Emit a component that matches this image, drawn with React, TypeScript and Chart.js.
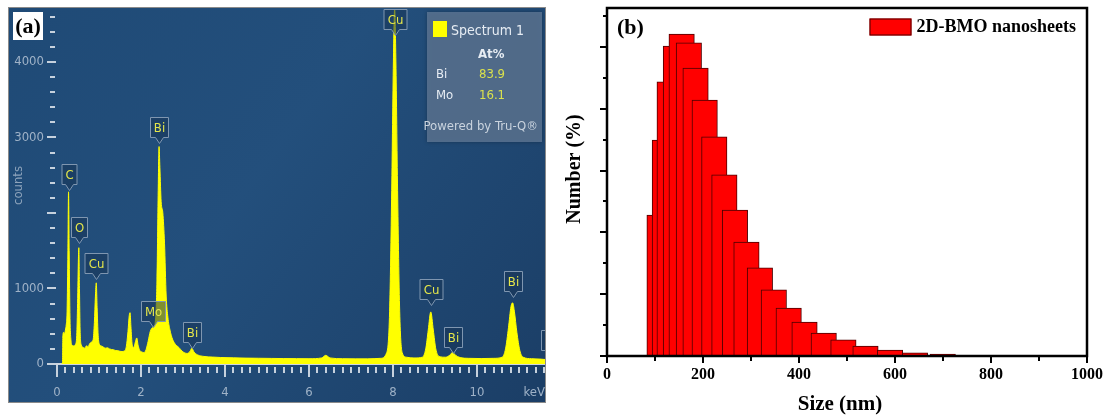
import React, { useEffect, useRef } from 'react';
import { Chart, registerables } from 'chart.js';

Chart.register(...registerables);

// ---------- (a) EDS spectrum ----------
const energyKeV = [
  0.10, 0.13, 0.14, 0.16, 0.18, 0.20, 0.22, 0.24, 0.26, 0.275,
  0.29, 0.31, 0.33, 0.36, 0.40, 0.44, 0.47, 0.49, 0.51, 0.52,
  0.535, 0.55, 0.58, 0.62, 0.66, 0.70, 0.74, 0.78, 0.82, 0.86,
  0.89, 0.915, 0.935, 0.955, 0.98, 1.01, 1.05, 1.10, 1.15, 1.20,
  1.25, 1.30, 1.35, 1.40, 1.45, 1.50, 1.55, 1.60, 1.65, 1.69,
  1.72, 1.74, 1.76, 1.79, 1.83, 1.87, 1.90, 1.93, 1.97, 2.02,
  2.07, 2.12, 2.17, 2.22, 2.27, 2.31, 2.35, 2.38, 2.41, 2.43,
  2.45, 2.48, 2.52, 2.56, 2.60, 2.64, 2.69, 2.75, 2.82, 2.90,
  3.00, 3.10, 3.17, 3.21, 3.26, 3.35, 3.50, 3.70, 3.90, 4.20,
  4.50, 4.80, 5.10, 5.40, 5.70, 6.00, 6.30, 6.40, 6.50, 6.80,
  7.10, 7.40, 7.70, 7.85, 7.92, 7.97, 8.01, 8.04, 8.07, 8.11,
  8.16, 8.22, 8.32, 8.50, 8.70, 8.78, 8.84, 8.90, 8.96, 9.02,
  9.10, 9.25, 9.36, 9.42, 9.48, 9.60, 9.80, 10.10, 10.40, 10.60,
  10.68, 10.75, 10.81, 10.85, 10.89, 10.95, 11.02, 11.10, 11.30, 11.50,
  11.62,
];
const spectrumCounts = [
  0, 0, 380, 420, 400, 450, 520, 700, 1500, 2280,
  1500, 600, 330, 250, 240, 260, 380, 800, 1400, 1540,
  1000, 450, 250, 220, 210, 240, 230, 270, 290, 320,
  550, 900, 1075, 750, 380, 260, 240, 225, 210, 215,
  200, 192, 188, 178, 176, 168, 165, 172, 230, 430,
  640, 680, 500, 260, 220, 300, 345, 250, 180, 160,
  150, 190, 300, 430, 480, 500, 620, 1100, 2300, 2880,
  2600, 2150, 2000, 1600, 900, 620, 450, 330, 260, 220,
  160, 140, 170, 210, 160, 120, 100, 92, 86, 82,
  78, 76, 74, 72, 71, 70, 80, 115, 80, 70,
  68, 68, 75, 150, 700, 2300, 4000, 4700, 4000, 2300,
  700, 150, 90, 80, 90, 200, 450, 690, 450, 200,
  100, 90, 120, 155, 120, 85, 75, 72, 75, 90,
  200, 480, 760, 810, 700, 420, 180, 90, 70, 65,
  60,
];

// peak identification tags: element, line energy (keV), tag anchor height (counts)
const peakElements = ['C', 'O', 'Cu', 'Mo', 'Bi', 'Bi', 'Cu', 'Cu', 'Bi', 'Bi', 'Bi'];
const peakEnergies = [0.28, 0.52, 0.93, 2.29, 2.43, 3.21, 8.04, 8.90, 9.42, 10.85, 11.74];
const peakTagCounts = [2300, 1600, 1125, 490, 2930, 210, 4360, 780, 145, 890, 105];

// quantification table
const quantElements = ['Bi', 'Mo'];
const quantAtPercent = ['83.9', '16.1'];

// ---------- (b) size distribution ----------
const binStartNm = [83, 94, 104, 117, 129, 144, 158, 177, 197, 218, 240, 264, 292, 321, 352, 385, 425, 466, 512, 563, 615, 673];
const binWidthNm = 53;
const numberPercent = [4.56, 6.99, 8.87, 10.03, 10.42, 10.13, 9.32, 8.28, 7.09, 5.86, 4.72, 3.69, 2.85, 2.14, 1.55, 1.10, 0.74, 0.52, 0.32, 0.19, 0.10, 0.06];
const sampleName = '2D-BMO nanosheets';
const sizeAxisTitle = 'Size (nm)';
const numberAxisTitle = 'Number (%)';

const NARROW = "'Liberation Sans Narrow', 'DejaVu Sans Condensed', 'Open Sans', sans-serif";
const SERIF = "'Liberation Serif', 'Times New Roman', serif";

type TickSpec = {
  axis: 'x' | 'y';
  step: number;
  count: number;
  every: number;
  majorSpan: [number, number];
  minorSpan: [number, number];
  color: string;
  width: number;
};

// keeps the plot area exactly where the layout puts it (no extra room for edge labels)
const noEdgePadding = (s: any) => {
  s.paddingTop = 0;
  s.paddingBottom = 0;
  s.paddingLeft = 0;
  s.paddingRight = 0;
};

function drawTickMarks(chart: any, spec: TickSpec) {
  const { ctx, chartArea } = chart;
  const scale = chart.scales[spec.axis];
  ctx.save();
  ctx.strokeStyle = spec.color;
  ctx.lineWidth = spec.width;
  ctx.beginPath();
  for (let i = 0; i <= spec.count; i++) {
    const p = Math.round(scale.getPixelForValue(i * spec.step)) + (spec.width % 2 ? 0.5 : 0);
    const [a, b] = i % spec.every === 0 ? spec.majorSpan : spec.minorSpan;
    if (spec.axis === 'x') {
      ctx.moveTo(p, chartArea.bottom + a);
      ctx.lineTo(p, chartArea.bottom + b);
    } else {
      ctx.moveTo(chartArea.left - a, p);
      ctx.lineTo(chartArea.left - b, p);
    }
  }
  ctx.stroke();
  ctx.restore();
}

const edsDecor = {
  id: 'edsDecor',
  beforeDraw(chart: any) {
    const { ctx, width, height } = chart;
    ctx.save();
    const g = ctx.createLinearGradient(0, 0, width, height);
    g.addColorStop(0, '#1f4a76');
    g.addColorStop(0.45, '#234f7c');
    g.addColorStop(1, '#1b3e66');
    ctx.fillStyle = g;
    ctx.fillRect(0, 0, width, height);
    ctx.restore();
  },
  afterDatasetsDraw(chart: any) {
    const { ctx, chartArea, scales } = chart;
    const { x, y } = scales;
    ctx.save();
    ctx.font = `13px ${NARROW}`;
    ctx.textAlign = 'center';
    ctx.textBaseline = 'middle';
    peakElements.forEach((el, i) => {
      const cx = Math.round(x.getPixelForValue(peakEnergies[i])) + 0.5;
      const tip = Math.round(y.getPixelForValue(peakTagCounts[i])) + 0.5;
      const w = Math.round(ctx.measureText(el).width + 7);
      const bb = tip - 6;
      const top = bb - 20;
      const l = cx - w / 2;
      const r = cx + w / 2;
      ctx.beginPath();
      ctx.moveTo(l, top);
      ctx.lineTo(r, top);
      ctx.lineTo(r, bb);
      ctx.lineTo(cx + 4, bb);
      ctx.lineTo(cx, tip);
      ctx.lineTo(cx - 4, bb);
      ctx.lineTo(l, bb);
      ctx.closePath();
      ctx.fillStyle = 'rgba(24, 52, 86, 0.55)';
      ctx.fill();
      ctx.strokeStyle = '#7f96b0';
      ctx.lineWidth = 1;
      ctx.stroke();
      ctx.fillStyle = '#e4e64a';
      ctx.fillText(el, cx, (top + bb) / 2 + 1);
    });

    // quantification box
    const bl = chartArea.right - 118;
    const bt = 5;
    const bw = 115;
    const bh = 130;
    ctx.shadowColor = 'rgba(0,0,0,0.35)';
    ctx.shadowBlur = 4;
    ctx.fillStyle = 'rgba(95, 120, 150, 0.8)';
    ctx.fillRect(bl, bt, bw, bh);
    ctx.shadowBlur = 0;
    ctx.shadowColor = 'transparent';
    ctx.fillStyle = '#ffff00';
    ctx.fillRect(bl + 6, bt + 9, 14, 16);
    ctx.textAlign = 'left';
    ctx.fillStyle = '#e6ecf3';
    ctx.font = `14px ${NARROW}`;
    ctx.fillText('Spectrum 1', bl + 24, bt + 19);
    ctx.font = `bold 13px ${NARROW}`;
    ctx.fillText('At%', bl + 51, bt + 43);
    ctx.font = `13px ${NARROW}`;
    quantElements.forEach((el, i) => {
      const ty = bt + 63 + i * 21;
      ctx.fillStyle = '#e6ecf3';
      ctx.fillText(el, bl + 9, ty);
      ctx.fillStyle = '#dbe24c';
      ctx.fillText(quantAtPercent[i], bl + 52, ty);
    });
    ctx.textAlign = 'right';
    ctx.fillStyle = '#c9d3de';
    ctx.fillText('Powered by Tru-Q\u00ae', bl + bw - 4, bt + 115);
    ctx.restore();
  },
  afterDraw(chart: any) {
    const { ctx, width, height } = chart;
    drawTickMarks(chart, { axis: 'y', step: 200, count: 23, every: 5, majorSpan: [10, 1], minorSpan: [7, 2], color: '#c6d1dd', width: 2 });
    drawTickMarks(chart, { axis: 'x', step: 0.2, count: 58, every: 10, majorSpan: [1, 13], minorSpan: [3, 9], color: '#c6d1dd', width: 2 });
    ctx.save();
    // panel letter
    ctx.fillStyle = '#ffffff';
    ctx.fillRect(5, 5, 30, 28);
    ctx.fillStyle = '#000000';
    ctx.font = `bold 22px ${SERIF}`;
    ctx.textAlign = 'center';
    ctx.textBaseline = 'middle';
    ctx.fillText('(a)', 20, 20);
    // frame
    ctx.strokeStyle = '#8a8a8a';
    ctx.lineWidth = 1;
    ctx.strokeRect(0.5, 0.5, width - 1, height - 1);
    ctx.restore();
  },
};

const dlsDecor = {
  id: 'dlsDecor',
  afterDraw(chart: any) {
    const { ctx, chartArea } = chart;
    drawTickMarks(chart, { axis: 'y', step: 1, count: 11, every: 2, majorSpan: [7, 0], minorSpan: [4, 0], color: '#000', width: 2 });
    drawTickMarks(chart, { axis: 'x', step: 100, count: 10, every: 2, majorSpan: [0, 7], minorSpan: [0, 5], color: '#000', width: 2 });
    ctx.save();
    ctx.strokeStyle = '#000';
    ctx.lineWidth = 2.5;
    ctx.strokeRect(chartArea.left, chartArea.top, chartArea.right - chartArea.left, chartArea.bottom - chartArea.top);

    ctx.fillStyle = '#000';
    ctx.textBaseline = 'middle';
    ctx.textAlign = 'left';
    ctx.font = `bold 22px ${SERIF}`;
    ctx.fillText('(b)', chartArea.left + 10, chartArea.top + 20);

    // axis titles
    ctx.textAlign = 'center';
    ctx.font = `bold 21px ${SERIF}`;
    ctx.fillText(sizeAxisTitle, (chartArea.left + chartArea.right) / 2 - 7, chartArea.bottom + 49);
    ctx.save();
    ctx.translate(chartArea.left - 32, (chartArea.top + chartArea.bottom) / 2 - 13);
    ctx.rotate(-Math.PI / 2);
    ctx.font = `bold 20px ${SERIF}`;
    ctx.fillText(numberAxisTitle, 0, 0);
    ctx.restore();

    // legend
    const ds = chart.data.datasets[0];
    ctx.textAlign = 'left';
    ctx.font = `bold 18px ${SERIF}`;
    const tw = ctx.measureText(ds.label).width;
    const tx = chartArea.right - 11 - tw;
    const cy = chartArea.top + 19;
    ctx.fillText(ds.label, tx, cy);
    ctx.fillStyle = ds.backgroundColor;
    ctx.fillRect(tx - 47, cy - 8.5, 42, 17);
    ctx.strokeStyle = '#4a0000';
    ctx.lineWidth = 1;
    ctx.strokeRect(tx - 46.5, cy - 8, 41, 16);
    ctx.restore();
  },
};

function EdsSpectrum() {
  const ref = useRef<HTMLCanvasElement>(null);
  useEffect(() => {
    const chart = new Chart(ref.current as HTMLCanvasElement, {
      type: 'line',
      data: {
        datasets: [
          {
            label: 'Spectrum 1',
            data: energyKeV.map((e, i) => ({ x: e, y: spectrumCounts[i] })),
            borderColor: '#ffff00',
            backgroundColor: '#ffff00',
            borderWidth: 1,
            fill: 'origin',
            pointRadius: 0,
            cubicInterpolationMode: 'monotone',
          },
        ],
      },
      options: {
        responsive: false,
        animation: false,
        devicePixelRatio: 1,
        layout: { padding: { top: 0, right: 1, bottom: 0, left: 0 } },
        plugins: { legend: { display: false }, tooltip: { enabled: false } },
        scales: {
          x: {
            type: 'linear',
            min: 0,
            max: 11.62,
            afterFit: (s: any) => { s.height = 39; noEdgePadding(s); },
            grid: { display: false, drawTicks: false },
            border: { display: true, color: '#cdd6e0', width: 2 },
            ticks: {
              stepSize: 2,
              includeBounds: false,
              padding: 21,
              color: '#9fb2c7',
              font: { family: NARROW, size: 13 },
              maxRotation: 0,
            },
            title: {
              display: true,
              text: 'keV',
              align: 'end',
              color: '#9fb2c7',
              font: { family: NARROW, size: 13 },
              padding: { top: 0, bottom: 3 },
            },
          },
          y: {
            type: 'linear',
            min: 0,
            max: 4728,
            afterFit: (s: any) => { s.width = 49; noEdgePadding(s); },
            grid: { display: false, drawTicks: false },
            border: { display: false },
            ticks: {
              stepSize: 200,
              autoSkip: false,
              includeBounds: false,
              padding: 13,
              color: '#9fb2c7',
              font: { family: NARROW, size: 13 },
              callback: (v: any) => (v % 1000 === 0 && v !== 2000 ? String(v) : null),
            },
            title: {
              display: true,
              text: 'counts',
              color: '#8ea4bc',
              font: { family: NARROW, size: 13 },
              padding: { top: 3, bottom: 0 },
            },
          },
        },
      },
      plugins: [edsDecor],
    } as any);
    return () => chart.destroy();
  }, []);
  return <canvas ref={ref} width={538} height={396} style={{ position: 'absolute', left: 8, top: 7 }} />;
}

function SizeDistribution() {
  const ref = useRef<HTMLCanvasElement>(null);
  useEffect(() => {
    const chart = new Chart(ref.current as HTMLCanvasElement, {
      type: 'bar',
      data: {
        datasets: [
          {
            label: sampleName,
            data: binStartNm.map((s, i) => ({ x: s + binWidthNm / 2, y: numberPercent[i] })),
            backgroundColor: '#ff0000',
            borderColor: '#4a0000',
            borderWidth: 1,
            barThickness: (c: any) => {
              const xs = c.chart.scales.x;
              return Math.abs(xs.getPixelForValue(binWidthNm) - xs.getPixelForValue(0));
            },
          },
        ],
      },
      options: {
        responsive: false,
        animation: false,
        devicePixelRatio: 1,
        layout: { padding: { top: 8, right: 26, bottom: 0, left: 0 } },
        plugins: { legend: { display: false }, tooltip: { enabled: false } },
        scales: {
          x: {
            type: 'linear',
            min: 0,
            max: 1000,
            offset: false,
            afterFit: (s: any) => { s.height = 63; noEdgePadding(s); },
            grid: { display: false, drawTicks: false, offset: false },
            border: { display: false },
            ticks: {
              stepSize: 200,
              padding: 9,
              color: '#000',
              font: { family: SERIF, size: 16, weight: 'bold' },
              maxRotation: 0,
              callback: (v: any) => String(v),
            },
          },
          y: {
            type: 'linear',
            min: 0,
            max: 11.26,
            afterFit: (s: any) => { s.width = 47; noEdgePadding(s); },
            grid: { display: false, drawTicks: false },
            border: { display: false },
            ticks: { display: false, stepSize: 2 },
          },
        },
      },
      plugins: [dlsDecor],
    } as any);
    return () => chart.destroy();
  }, []);
  return <canvas ref={ref} width={553} height={419} style={{ position: 'absolute', left: 560, top: 0 }} />;
}

export default function App() {
  return (
    <div style={{ position: 'absolute', left: 0, top: 0, width: 1113, height: 419, background: '#ffffff', overflow: 'hidden' }}>
      <EdsSpectrum />
      <SizeDistribution />
    </div>
  );
}
